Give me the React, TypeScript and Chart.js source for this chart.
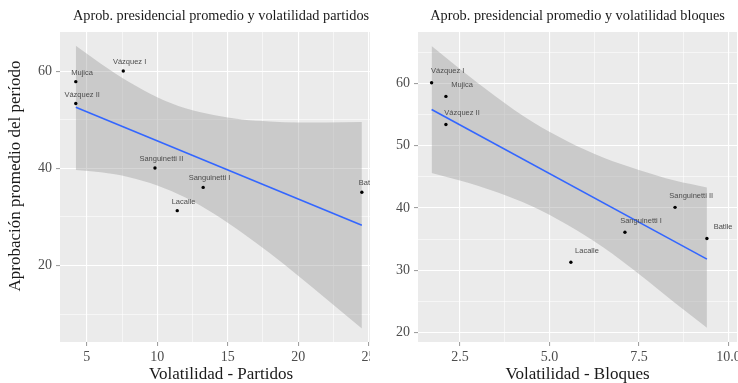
import React, { useEffect, useRef } from "react";
import { Chart, registerables } from "chart.js";

Chart.register(...registerables);

// Presidential terms and average approval
const PRESIDENTS = ["Sanguinetti I", "Lacalle", "Sanguinetti II", "Batlle", "Vázquez I", "Mujica", "Vázquez II"];
const APPROVAL = [36.1, 31.3, 40.1, 35.1, 60.1, 57.9, 53.4];

// Electoral volatility, by party and by bloc
const VOL_PARTIDOS = [13.26, 11.42, 9.84, 24.52, 7.59, 4.22, 4.22];
const VOL_BLOQUES = [7.11, 5.6, 8.51, 9.4, 1.71, 2.11, 2.11];

// Linear fit (approval ~ volatility) with its 95% band
const FIT_PARTIDOS_X = [4.22, 24.52];
const FIT_PARTIDOS_Y = [52.6, 28.3];
const BAND_PARTIDOS_X = [4.22, 6, 8, 10, 12, 14, 16, 18, 20, 22, 24.52];
const BAND_PARTIDOS_HI = [65.3, 61.6, 57.8, 54.7, 52.4, 51.0, 50.1, 49.7, 49.5, 49.5, 49.6];
const BAND_PARTIDOS_LO = [39.7, 39.2, 38.2, 36.5, 34.0, 30.7, 26.8, 22.5, 17.9, 13.1, 7.0];

const FIT_BLOQUES_X = [1.71, 9.4];
const FIT_BLOQUES_Y = [55.8, 31.8];
const BAND_BLOQUES_X = [1.71, 2.5, 3.5, 4.5, 5.5, 6.5, 7.5, 8.5, 9.4];
const BAND_BLOQUES_HI = [66.0, 62.3, 57.9, 53.9, 50.7, 48.1, 46.1, 44.4, 43.3];
const BAND_BLOQUES_LO = [45.6, 44.4, 42.6, 40.3, 37.3, 33.7, 29.4, 24.8, 20.8];

// Axis breaks
const PARTIDOS_X_MAJOR = [5, 10, 15, 20, 25];
const PARTIDOS_X_MINOR = [7.5, 12.5, 17.5, 22.5];
const PARTIDOS_Y_MAJOR = [20, 40, 60];
const PARTIDOS_Y_MINOR = [10, 30, 50];
const BLOQUES_X_MAJOR = [2.5, 5, 7.5, 10];
const BLOQUES_X_MINOR = [3.75, 6.25, 8.75];
const BLOQUES_Y_MAJOR = [20, 30, 40, 50, 60];
const BLOQUES_Y_MINOR = [25, 35, 45, 55, 65];

// Text labels sit slightly up and to the right of each point (data units)
const NUDGE_X = 0.45;
const NUDGE_Y = 1.85;

const PANEL_BG = "#ebebeb";
const BAND_FILL = "rgba(153,153,153,0.4)";
const FIT_COLOR = "#3366ff";
const TEXT_COLOR = "#1a1a1a";
const TICK_TEXT = "#4d4d4d";
const SERIF = '"Liberation Serif", "DejaVu Serif", serif';
const SANS = '"Liberation Sans", Arial, sans-serif';

type PanelSpec = {
  width: number;
  height: number;
  area: { left: number; right: number; top: number; bottom: number };
  xRange: [number, number];
  yRange: [number, number];
  xMajor: number[];
  xMinor: number[];
  yMajor: number[];
  yMinor: number[];
  xFormat: (v: number) => string;
  xs: number[];
  ys: number[];
  fitX: number[];
  fitY: number[];
  bandX: number[];
  bandHi: number[];
  bandLo: number[];
  title: string;
  xTitle: string;
  yTitle?: string;
};

const decorPlugin = {
  id: "ggDecor",
  beforeDraw(chart: any) {
    const { ctx, chartArea } = chart;
    ctx.save();
    ctx.fillStyle = PANEL_BG;
    ctx.fillRect(chartArea.left, chartArea.top, chartArea.right - chartArea.left, chartArea.bottom - chartArea.top);
    ctx.restore();
  },
  afterDraw(chart: any, _args: any, opts: any) {
    const spec: PanelSpec = opts.spec;
    const { ctx, chartArea, scales } = chart;
    const cx = (chartArea.left + chartArea.right) / 2;
    ctx.save();

    // point labels
    ctx.font = `7.5px ${SANS}`;
    ctx.fillStyle = "#4d4d4d";
    ctx.textAlign = "center";
    ctx.textBaseline = "middle";
    spec.xs.forEach((x, i) => {
      const px = scales.x.getPixelForValue(x + NUDGE_X);
      const py = scales.y.getPixelForValue(spec.ys[i] + NUDGE_Y);
      ctx.fillText(PRESIDENTS[i], px, py);
    });

    // titles
    ctx.fillStyle = TEXT_COLOR;
    ctx.font = `14.3px ${SERIF}`;
    ctx.fillText(spec.title, cx, 16);
    ctx.font = `17px ${SERIF}`;
    ctx.fillText(spec.xTitle, cx, 375);
    if (spec.yTitle) {
      ctx.translate(16, 176);
      ctx.rotate(-Math.PI / 2);
      ctx.fillText(spec.yTitle, 0, 0);
    }
    ctx.restore();
  },
};

function buildConfig(p: PanelSpec): any {
  const xTicks = [...p.xMajor, ...p.xMinor].sort((a, b) => a - b);
  const yTicks = [...p.yMajor, ...p.yMinor].sort((a, b) => a - b);
  const isXMajor = (v: number) => p.xMajor.includes(v);
  const isYMajor = (v: number) => p.yMajor.includes(v);
  const tickFont = { family: SERIF, size: 14 };

  return {
    type: "scatter",
    data: {
      datasets: [
        {
          type: "line",
          data: p.bandX.map((x, i) => ({ x, y: p.bandHi[i] })),
          borderColor: "rgba(0,0,0,0)",
          borderWidth: 0,
          pointRadius: 0,
          backgroundColor: BAND_FILL,
          fill: "+1",
          cubicInterpolationMode: "monotone",
          order: 3,
        },
        {
          type: "line",
          data: p.bandX.map((x, i) => ({ x, y: p.bandLo[i] })),
          borderColor: "rgba(0,0,0,0)",
          borderWidth: 0,
          pointRadius: 0,
          fill: false,
          cubicInterpolationMode: "monotone",
          order: 3,
        },
        {
          type: "line",
          data: p.fitX.map((x, i) => ({ x, y: p.fitY[i] })),
          borderColor: FIT_COLOR,
          borderWidth: 1.6,
          pointRadius: 0,
          fill: false,
          order: 2,
        },
        {
          type: "scatter",
          data: p.xs.map((x, i) => ({ x, y: p.ys[i] })),
          backgroundColor: "#000",
          borderWidth: 0,
          pointRadius: 1.7,
          order: 1,
        },
      ],
    },
    options: {
      responsive: false,
      animation: false,
      devicePixelRatio: 1,
      events: [],
      layout: {
        padding: { left: 0, right: p.width - p.area.right, top: p.area.top, bottom: 0 },
      },
      plugins: {
        legend: { display: false },
        tooltip: { enabled: false },
        ggDecor: { spec: p },
      },
      scales: {
        x: {
          type: "linear",
          min: p.xRange[0],
          max: p.xRange[1],
          afterBuildTicks: (s: any) => {
            s.ticks = xTicks.map((v) => ({ value: v }));
          },
          afterFit: (s: any) => {
            s.height = p.height - p.area.bottom;
          },
          border: { display: false },
          grid: {
            color: "#ffffff",
            lineWidth: (c: any) => (c.tick && isXMajor(c.tick.value) ? 1.1 : 0.55),
            tickColor: (c: any) => (c.tick && isXMajor(c.tick.value) ? "#a0a0a0" : "rgba(0,0,0,0)"),
            tickLength: 4,
            drawTicks: true,
          },
          ticks: {
            autoSkip: false,
            maxRotation: 0,
            padding: 3,
            color: TICK_TEXT,
            font: tickFont,
            callback: (v: number) => (isXMajor(v) ? p.xFormat(v) : ""),
          },
        },
        y: {
          type: "linear",
          min: p.yRange[0],
          max: p.yRange[1],
          afterBuildTicks: (s: any) => {
            s.ticks = yTicks.map((v) => ({ value: v }));
          },
          afterFit: (s: any) => {
            s.width = p.area.left;
          },
          border: { display: false },
          grid: {
            color: "#ffffff",
            lineWidth: (c: any) => (c.tick && isYMajor(c.tick.value) ? 1.1 : 0.55),
            tickColor: (c: any) => (c.tick && isYMajor(c.tick.value) ? "#a0a0a0" : "rgba(0,0,0,0)"),
            tickLength: 4,
            drawTicks: true,
          },
          ticks: {
            autoSkip: false,
            padding: 4,
            color: TICK_TEXT,
            font: tickFont,
            callback: (v: number) => (isYMajor(v) ? String(v) : ""),
          },
        },
      },
    },
    plugins: [decorPlugin],
  };
}

const PANELS: { left: number; clip: number; spec: PanelSpec }[] = [
  {
    left: 0,
    clip: 370,
    spec: {
      width: 400,
      height: 383,
      area: { left: 60, right: 382, top: 32, bottom: 342 },
      xRange: [3.1, 25.95],
      yRange: [4.23, 68.13],
      xMajor: PARTIDOS_X_MAJOR,
      xMinor: PARTIDOS_X_MINOR,
      yMajor: PARTIDOS_Y_MAJOR,
      yMinor: PARTIDOS_Y_MINOR,
      xFormat: (v) => String(v),
      xs: VOL_PARTIDOS,
      ys: APPROVAL,
      fitX: FIT_PARTIDOS_X,
      fitY: FIT_PARTIDOS_Y,
      bandX: BAND_PARTIDOS_X,
      bandHi: BAND_PARTIDOS_HI,
      bandLo: BAND_PARTIDOS_LO,
      title: "Aprob. presidencial promedio y volatilidad partidos",
      xTitle: "Volatilidad - Partidos",
      yTitle: "Aprobación promedio del período",
    },
  },
  {
    left: 370,
    clip: 368,
    spec: {
      width: 400,
      height: 383,
      area: { left: 48, right: 367, top: 32, bottom: 342 },
      xRange: [1.33, 10.24],
      yRange: [18.5, 68.23],
      xMajor: BLOQUES_X_MAJOR,
      xMinor: BLOQUES_X_MINOR,
      yMajor: BLOQUES_Y_MAJOR,
      yMinor: BLOQUES_Y_MINOR,
      xFormat: (v) => v.toFixed(1),
      xs: VOL_BLOQUES,
      ys: APPROVAL,
      fitX: FIT_BLOQUES_X,
      fitY: FIT_BLOQUES_Y,
      bandX: BAND_BLOQUES_X,
      bandHi: BAND_BLOQUES_HI,
      bandLo: BAND_BLOQUES_LO,
      title: "Aprob. presidencial promedio y volatilidad bloques",
      xTitle: "Volatilidad - Bloques",
    },
  },
];

function Panel({ left, clip, spec }: { left: number; clip: number; spec: PanelSpec }) {
  const ref = useRef<HTMLCanvasElement | null>(null);
  useEffect(() => {
    if (!ref.current) return;
    const chart = new Chart(ref.current, buildConfig(spec));
    return () => chart.destroy();
  }, [spec]);
  return (
    <div style={{ position: "absolute", left, top: 0, width: clip, height: spec.height, overflow: "hidden" }}>
      <canvas
        ref={ref}
        width={spec.width}
        height={spec.height}
        style={{ width: spec.width, height: spec.height, display: "block" }}
      />
    </div>
  );
}

export default function App() {
  return (
    <div style={{ position: "absolute", left: 0, top: 0, width: 738, height: 383, background: "#fff" }}>
      {PANELS.map((p, i) => (
        <Panel key={i} left={p.left} clip={p.clip} spec={p.spec} />
      ))}
    </div>
  );
}
